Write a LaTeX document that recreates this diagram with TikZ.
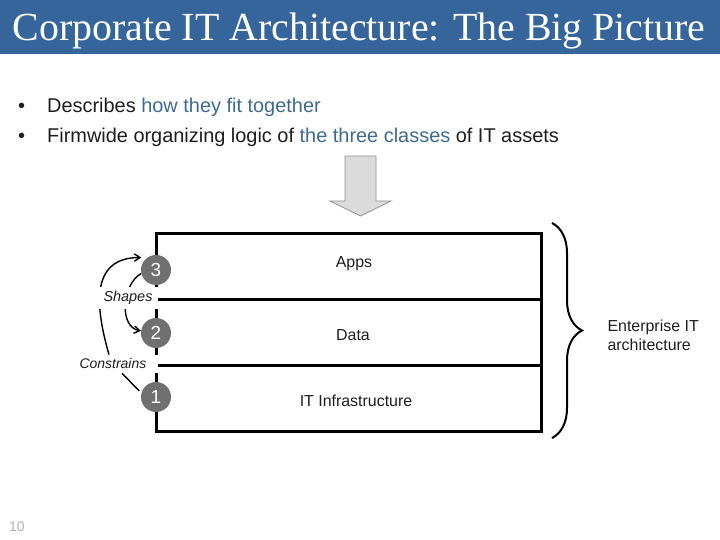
\documentclass[tikz,border=0pt]{standalone}
\usepackage{fontspec}
\setmainfont{Liberation Sans}
\newfontfamily\titlefont{Liberation Serif}
\usetikzlibrary{arrows.meta,decorations.pathreplacing,backgrounds}
\definecolor{barblue}{HTML}{35659A}
\definecolor{hlblue}{HTML}{3E6A90}
\definecolor{txt}{HTML}{1E1E1E}
\definecolor{dotgray}{HTML}{707070}

\begin{document}
\begin{tikzpicture}[x=1bp, y=1bp,
    every node/.style={font=\fontsize{16}{19}\selectfont, text=txt},
    bul/.style={anchor=west, inner sep=0pt, font=\fontsize{20}{23}\selectfont},
    lay/.style={line width=3bp},
    num/.style={circle, fill=dotgray, minimum size=30bp, inner sep=0pt,
                text=white, font=\fontsize{19}{21}\selectfont},
    rel/.style={fill=white, inner xsep=6bp, inner ysep=4bp,
                font=\fontsize{14.5}{16}\selectfont\itshape},
    e/.style={-{Straight Barb[length=2mm,width=2.6mm]}, line width=1.4bp},
    ln/.style={line width=1.4bp},
    brc/.style={decorate, decoration={brace, amplitude=30bp}, line width=2bp},
  ]
  \useasboundingbox (0,0) rectangle (720,540);
  \fill[barblue] (0,486) rectangle (720,540);
  \node[text=white, font=\titlefont\fontsize{40}{42}\selectfont] (ttl) at (359,509)
    {Corporate IT Architecture: The Big Picture};
  \node[bul] (b1) at (18,433)
    {\makebox[29bp][l]{\textbullet}Describes \textcolor{hlblue}{how they fit together}};
  \node[bul] (b2) at (18,403)
    {\makebox[29bp][l]{\textbullet}Firmwide organizing logic of \textcolor{hlblue}{the three classes} of IT assets};
  \draw[fill=gray!28, draw=gray!85, line width=0.8bp]
    (345,384) -- (376,384) -- (376,339) -- (391,339) -- (360.5,324)
    -- (330,339) -- (345,339) -- cycle;
  \draw[lay] (156,108) rectangle (541,306);
  \draw[lay] (156,240) -- (541,240);
  \draw[lay] (156,174) -- (541,174);
  \node (apps) at (354,276) {Apps};
  \node (data) at (353,205) {Data};
  \node (infra) at (356,139) {IT Infrastructure};
  \node[num] (c3) at (156,270) {3};
  \node[num] (c2) at (156,207) {2};
  \node[num] (c1) at (156,143) {1};
  \node[rel] (shp) at (128,242) {Shapes};
  \node[rel, inner xsep=12bp, font=\fontsize{14}{16}\selectfont\itshape] (cons) at (113,176) {Constrains};
  \begin{pgfonlayer}{background}
    \draw[e] (c3.193) to[out=210, in=170] (c2.172);
    \draw[e, shorten >=6bp] ([xshift=-4bp]cons.north) to[out=106, in=180, looseness=1.35] (c3.125);
    \draw[ln, shorten >=3bp] ([xshift=9bp]cons.south) -- (c1.165);
  \end{pgfonlayer}
  \coordinate (btop) at (552,317);
  \coordinate (bbot) at (552,102);
  \draw[brc] (btop) -- (bbot);
  \node[anchor=west, align=left] (ent) at (604,205) {Enterprise IT\\architecture};
  \node[text=gray!60, font=\fontsize{14}{16}\selectfont] (pg) at (17,13) {10};
\end{tikzpicture}
\end{document}
